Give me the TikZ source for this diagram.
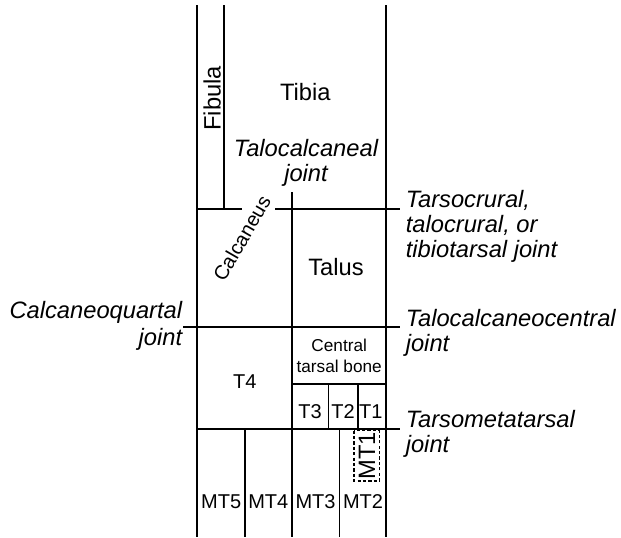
\documentclass[tikz,border=0pt]{standalone}
\usepackage{fontspec}
\setmainfont{Liberation Sans}
\begin{document}
\begin{tikzpicture}[x=1pt,y=-1pt,line width=1.6pt,
  big/.style={inner sep=0pt,font=\fontsize{23.7}{25}\selectfont},
  mid/.style={inner sep=0pt,font=\fontsize{20}{22}\selectfont},
  small/.style={inner sep=0pt,font=\fontsize{17.2}{20}\selectfont},
  joint/.style={inner sep=0pt,font=\fontsize{23.7}{25}\selectfont\itshape},
  hidden/.style={line width=1.1pt,dash pattern=on 3.2pt off 2.2pt}]
\useasboundingbox (0,0) rectangle (621,538);

% limb outline and fibula
\draw (197,5) -- (197,537);
\draw (386,5) -- (386,537);
\draw (224,5) -- (224,209);

% tarsocrural joint, interrupted by the Calcaneus label
\draw (197,209) -- (242,209);
\draw (275,209) -- (400,209);

% talus / calcaneus boundary continuing between MT3 and MT2 column
\draw (292,192) -- (292,537);

% calcaneoquartal / talocalcaneocentral joint
\draw (183,327) -- (400,327);

% central tarsal bone and distal tarsals
\draw (292,384) -- (386,384);
\draw (328.3,384) -- (328.3,429);
\draw (357.7,384) -- (357.7,429);

% tarsometatarsal joint and metatarsals
\draw (197,429) -- (400,429);
\draw (245,429) -- (245,537);
\draw (339.3,429) -- (339.3,537);
\draw[hidden] (354,430.5) rectangle (379.3,481);

% bone names
\node[big,rotate=90,anchor=base] (fib) at (220.7,98.3) {Fibula};
\node[big,anchor=base] (tib) at (305.3,100) {Tibia};
\node[mid,rotate=60] (calc) at (241.7,238.3) {Calcaneus};
\node[big,anchor=base] (tal) at (336,275) {Talus};
\node[small,anchor=base] (cen1) at (339.2,351.7) {Central};
\node[small,anchor=base] (cen2) at (339.2,372.7) {tarsal bone};
\node[mid,anchor=base] (t4) at (244.7,388.3) {T4};
\node[mid,anchor=base] (t3) at (310,418.3) {T3};
\node[mid,anchor=base] (t2) at (343,418.3) {T2};
\node[mid,anchor=base] (t1) at (370.8,418.3) {T1};
\node[mid,anchor=base] (mt5) at (221.2,508.3) {MT5};
\node[mid,anchor=base] (mt4) at (268.3,508.3) {MT4};
\node[mid,anchor=base] (mt3) at (315.5,508.3) {MT3};
\node[mid,anchor=base] (mt2) at (363,508.3) {MT2};
\node[big,rotate=90,anchor=base] (mt1) at (375,456) {MT1};

% joint names
\node[joint,anchor=base] (tc1) at (306,156) {Talocalcaneal};
\node[joint,anchor=base] (tc2) at (306,181) {joint};

\node[joint,anchor=base west] (tcr1) at (405,207) {Tarsocrural,};
\node[joint,anchor=base west] (tcr2) at (405,232) {talocrural, or};
\node[joint,anchor=base west] (tcr3) at (405,257) {tibiotarsal joint};

\node[joint,anchor=base west] (tcc1) at (405,326) {Talocalcaneocentral};
\node[joint,anchor=base west] (tcc2) at (405,351) {joint};

\node[joint,anchor=base west] (tmt1) at (405,427) {Tarsometatarsal};
\node[joint,anchor=base west] (tmt2) at (405,452) {joint};

\node[joint,anchor=base east] (cq1) at (183,318) {Calcaneoquartal};
\node[joint,anchor=base east] (cq2) at (183,345) {joint};
\end{tikzpicture}
\end{document}
